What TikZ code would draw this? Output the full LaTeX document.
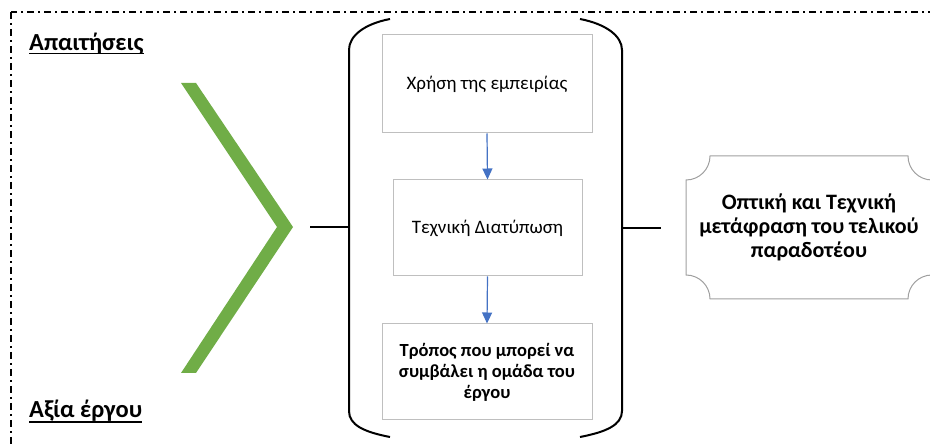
\documentclass[tikz,border=0pt]{standalone}
\usepackage{fontspec}
\setmainfont{Carlito}
\usetikzlibrary{arrows.meta}
\definecolor{chevgreen}{HTML}{70AD47}
\definecolor{arrblue}{HTML}{4472C4}
\definecolor{boxgray}{HTML}{BFBFBF}
\definecolor{plqgray}{HTML}{A0A0A0}
\tikzset{
  framestyle/.style={line width=1.5pt, dash pattern=on 7pt off 4pt on 2pt off 4pt},
  brk/.style={line width=2pt, black},
  conn/.style={line width=2pt, black},
  stepbox/.style={draw=boxgray, line width=1pt, inner sep=2pt, align=center, font=\fontsize{19}{21}\selectfont},
  flowarr/.style={draw=arrblue, fill=arrblue, line width=1.2pt, -{Triangle[width=10pt,length=11pt]}},
  plq/.style={draw=plqgray, line width=1pt},
  titletext/.style={inner sep=0pt, font=\fontsize{24.5}{28}\selectfont\bfseries},
}
\begin{document}
\begin{tikzpicture}[x=1pt,y=-1pt]
\useasboundingbox (0,0) rectangle (930,446);
\clip (0,0) rectangle (930,446);
% frame
\draw[framestyle] (11,12) rectangle (950,470);
% titles
\node[titletext, anchor=base west] (t1) at (29,51) {Απαιτήσεις};
\draw[line width=1.5pt] ([yshift=-2.5pt]t1.base west) -- ([yshift=-2.5pt]t1.base east);
\node[titletext, anchor=base west] (t2) at (29,418) {Αξία έργου};
\draw[line width=1.5pt] ([yshift=-4pt]t2.base west) -- ([yshift=-4pt]t2.base east);
% chevron
\fill[chevgreen] (181,83) -- (196,83) -- (293,227) -- (196,373) -- (181,373) -- (277,227) -- cycle;
% bracket
\draw[brk] (390,19) .. controls (364,24) and (349,36) .. (349,50) -- (349,411) .. controls (349,425) and (364,432) .. (390,437);
\draw[brk] (580,19) .. controls (606,24) and (622,36) .. (622,50) -- (622,411) .. controls (622,425) and (606,432) .. (580,437);
\coordinate (lStart) at (310,227);
\coordinate (brL) at (349,227);
\coordinate (brR) at (622,228);
\coordinate (rEnd) at (661,228);
\draw[conn] (lStart) -- (brL);
\draw[conn] (brR) -- (rEnd);
% boxes
\node[stepbox, minimum width=210pt, minimum height=98pt] (b1) at (487,84) {Χρήση της εμπειρίας};
\node[stepbox, minimum width=189pt, minimum height=96pt] (b2) at (487.5,228) {Τεχνική Διατύπωση};
\node[stepbox, minimum width=210pt, minimum height=96pt, font=\fontsize{18.5}{21}\selectfont\bfseries] (b3) at (487,372) {Τρόπος που μπορεί να\\συμβάλει η ομάδα του\\έργου};
\draw[flowarr] (b1.south) -- (b2.north);
\draw[flowarr] (b2.south) -- (b3.north);
% plaque
\node[inner sep=0pt, minimum width=246pt, minimum height=143pt, align=center, font=\fontsize{22}{24}\selectfont\bfseries] (out) at (809,227.5) {Οπτική και Τεχνική\\μετάφραση του τελικού\\παραδοτέου};
\draw[plq] (710,156) -- (908,156) arc[start angle=180, end angle=90, radius=24]
  -- (932,275) arc[start angle=270, end angle=180, radius=24]
  -- (710,299) arc[start angle=0, end angle=-90, radius=24]
  -- (686,180) arc[start angle=90, end angle=0, radius=24] -- cycle;
\end{tikzpicture}
\end{document}
